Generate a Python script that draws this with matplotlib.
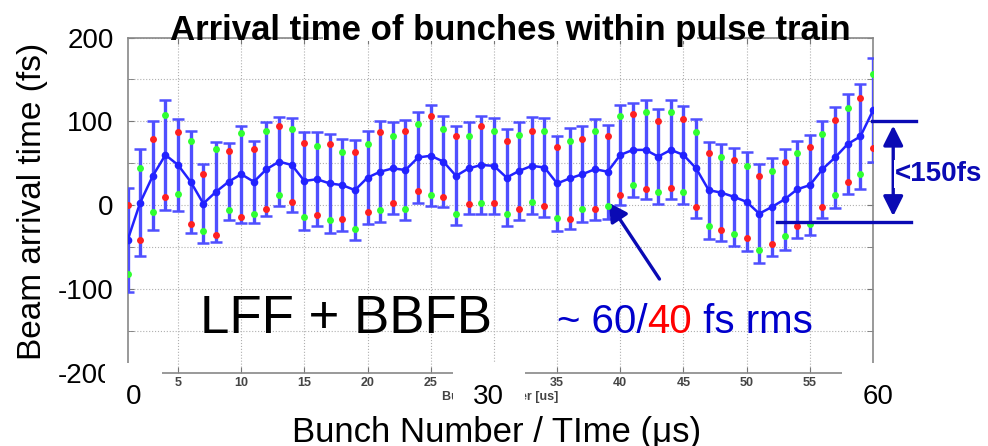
import matplotlib.pyplot as plt
from matplotlib.patches import Rectangle
import numpy as np

plt.rcParams['font.family'] = ['Liberation Sans', 'DejaVu Sans']
plt.rcParams['axes.unicode_minus'] = False

# arrival time per bunch (fs): mean, rms spread, and two single shots
bunch = np.arange(1, 61)
mean_fs = [-42, 3, 35, 60, 48, 28, 2, 16, 28, 37, 28, 43, 52, 48, 29, 31, 26, 24, 18, 33,
           40, 44, 42, 57, 59, 52, 35, 44, 48, 47, 33, 41, 47, 45, 26, 32, 37, 43, 40, 60,
           66, 66, 58, 66, 60, 44, 18, 15, 10, 4, -10, -2, 7, 19, 24, 43, 57, 73, 82, 113]
err_fs = [62, 64, 65, 66, 55, 61, 47, 60, 46, 58, 49, 56, 53, 56, 58, 56, 59, 55, 60, 55,
          60, 55, 60, 54, 60, 54, 59, 55, 59, 57, 58, 58, 58, 59, 57, 60, 57, 60, 56, 60,
          56, 59, 57, 59, 58, 59, 58, 58, 58, 59, 59, 58, 60, 58, 60, 58, 60, 60, 63, 62]
red_fs = [0, -41, 79, 10, 87, -22, 37, -36, 65, -14, 67, -4, 94, 4, 74, -12, 73, -16, 64, -8,
          87, 3, 89, 17, 107, 10, 83, 1, 94, 3, 77, -4, 89, -1, 69, -16, 79, -5, 82, 12,
          109, 19, 101, 20, 103, -2, 62, -30, 54, -39, 35, -46, 52, -25, 70, -2, 102, 28, 128, 68]
green_fs = [-82, 45, -8, 108, 13, 77, -31, 67, -6, 86, -10, 88, 12, 91, -14, 71, -18, 64, -28, 73,
            -6, 82, -4, 97, 12, 91, -11, 83, 3, 89, -11, 84, 4, 89, -15, 77, -4, 88, -1, 106,
            24, 111, 16, 111, 16, 87, -25, 57, -34, 47, -53, 41, -37, 62, -22, 85, 12, 116, 37, 156]

xticks = np.arange(5, 60, 5)
big_xlabels = ['0', '30', '60']
big_xpos = [1.5, 29.6, 60.4]
span_top, span_bottom = 100, -20

navy = '#0a0ab4'

fig = plt.figure(figsize=(9.88, 4.46), dpi=100)
ax = fig.add_axes([127.5 / 988, 1 - 373 / 446, 745.5 / 988, 335.5 / 446])

ax.errorbar(bunch, mean_fs, yerr=err_fs, color='#2222ff', lw=1.8, marker='o', ms=4.5,
            ecolor='#4f4fff', elinewidth=2.4, capsize=4.5, capthick=1.8, zorder=3)
ax.plot(bunch, red_fs, 'o', color='#ff2020', ms=5, mec='none', zorder=4)
ax.plot(bunch, green_fs, 'o', color='#30ff30', ms=5, mec='none', zorder=4)

ax.set_xlim(1, 60)
ax.set_ylim(-200, 200)
ax.set_xticks(xticks, labels=[str(t) for t in xticks], fontweight='bold')
ax.set_yticks([-200, -100, 0, 100, 200])
ax.set_yticks([-150, -50, 50, 150], minor=True)
ax.grid(True, which='both', ls=':', color='#b0b0b0', lw=0.8)
ax.tick_params(which='both', direction='in', top=True, right=True, color='#777777', length=4)
ax.tick_params(axis='x', labelsize=9, labelcolor='#444444', pad=3)
ax.tick_params(axis='y', labelsize=20, labelcolor='black', pad=10)
for s in ax.spines.values():
    s.set_color('#888888')
    s.set_linewidth(1.2)

ax.set_xlabel('Bunch Number [us]', fontsize=9, color='#444444', fontweight='bold')
ax.xaxis.set_label_coords(0.5, -0.055)

# large axis numbers on white boxes
for lbl, xp in zip(big_xlabels, big_xpos):
    ax.text(xp, -0.071, lbl, transform=ax.get_xaxis_transform(), fontsize=20,
            ha='center', va='center', zorder=6,
            bbox=dict(boxstyle='square,pad=0.75', fc='white', ec='none'))

ax.text(0.097, 0.119, 'LFF + BBFB', transform=ax.transAxes, fontsize=38,
        color='black', va='baseline', zorder=6)

t1 = ax.text(0.576, 0.119, '~ 60/', transform=ax.transAxes, fontsize=29,
             color='#0000cc', va='baseline', zorder=6)
t2 = ax.annotate('40', xy=(1, 0), xycoords=t1, fontsize=29, color='red',
                 va='bottom', zorder=6)
ax.annotate(' fs rms', xy=(1, 0), xycoords=t2, fontsize=29, color='#0000cc',
            va='bottom', zorder=6)

ax.annotate('', xy=(39.1, 3), xytext=(43.1, -88), annotation_clip=False,
            arrowprops=dict(arrowstyle='-|>,head_length=1.1,head_width=0.6',
                            color=navy, lw=2.4, shrinkA=0, shrinkB=0))

# peak-to-peak bracket on the right
ax.plot([59.9, 63.4], [span_top, span_top], color=navy, lw=2.4, clip_on=False, zorder=5)
ax.plot([52.4, 63.0], [span_bottom, span_bottom], color=navy, lw=2.4, clip_on=False, zorder=5)
ax.annotate('', xy=(61.6, span_top - 5), xytext=(61.6, span_bottom + 7), annotation_clip=False,
            arrowprops=dict(arrowstyle='<|-|>,head_length=1.2,head_width=0.6',
                            color=navy, lw=2.4, shrinkA=0, shrinkB=0))
fig.text(895 / 988, 1 - 181 / 446, '<150fs', fontsize=20, fontweight='bold', color=navy,
         ha='left', va='baseline', zorder=6,
         bbox=dict(boxstyle='square,pad=0.05', fc='white', ec='none'))

fig.add_artist(Rectangle((323 / 988, 1 - 41 / 446), 374 / 988, 7 / 446,
                         transform=fig.transFigure, fc='white', ec='none', zorder=5))
fig.text(510 / 988, 1 - 40 / 446, 'Arrival time of bunches within pulse train',
         fontsize=25, fontweight='bold', ha='center', va='baseline', zorder=6)
fig.text(32 / 988, 1 - 201 / 446, 'Beam arrival time (fs)', fontsize=24,
         rotation=90, ha='center', va='center')
fig.text(497 / 988, 4 / 446, 'Bunch Number / TIme (μs)', fontsize=25,
         ha='center', va='baseline')

fig.savefig('out.png', dpi=100)
